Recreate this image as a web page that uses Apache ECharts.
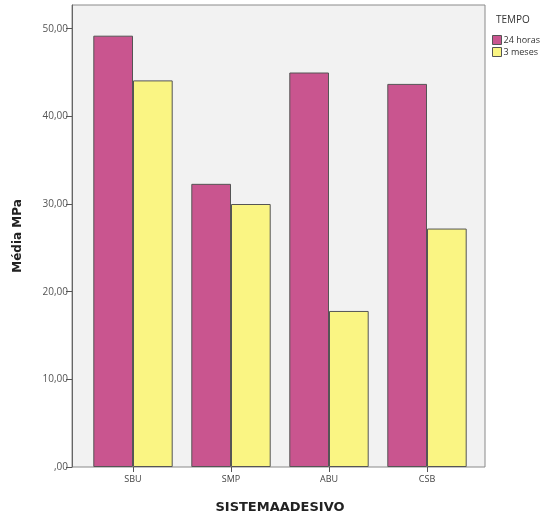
<!DOCTYPE html>
<html>
<head>
<meta charset="utf-8">
<script src="https://cdn.jsdelivr.net/npm/echarts@6/dist/echarts.min.js"></script>
<style>
  html, body { margin: 0; padding: 0; background: #fff; }
  #container { width: 552px; height: 514px; }
</style>
</head>
<body>
<div id="container"></div>
<script>
const categories = ['SBU', 'SMP', 'ABU', 'CSB'];
const horas24 = [49.2, 32.3, 45.0, 43.7];
const meses3 = [44.1, 30.0, 17.8, 27.2];
const yTicks = [0, 10, 20, 30, 40, 50];

const yMax = 52.7;
let chart = echarts.init(document.getElementById('container'));

function fmt(v) {
  // SPSS style: ",00" for zero, "10,00" etc
  if (v === 0) return ',00';
  return v.toFixed(2).replace('.', ',');
}

let option = {
  animation: false,
  textStyle: { fontFamily: 'DejaVu Sans' },
  title: {
    text: 'TEMPO',
    left: 491,
    top: 10,
    textStyle: { fontSize: 10, fontWeight: 'normal', color: '#333', fontFamily: 'Open Sans' },
  },
  legend: {
    orient: 'vertical',
    left: 487,
    top: 30,
    itemWidth: 9,
    itemHeight: 9,
    itemGap: 2,
    icon: 'rect',
    textStyle: { fontSize: 9, color: '#333', padding: [0, 0, 0, -3], fontFamily: 'Open Sans' },
    itemStyle: { borderColor: '#555', borderWidth: 1 },
    data: ['24 horas', '3 meses'],
  },
  grid: [
    // frame
    {
      left: 72,
      right: 67,
      top: 5,
      bottom: 47,
      outerBoundsMode: 'none',
      show: true,
      backgroundColor: '#f2f2f2',
      borderColor: '#8a8a8a',
      borderWidth: 1,
    },
    // bars
    {
      left: 84,
      right: 76,
      top: 5,
      bottom: 47,
      outerBoundsMode: 'none',
    },
  ],
  xAxis: [
    { gridIndex: 0, type: 'value', show: false, min: 0, max: 1 },
    {
      gridIndex: 1,
      type: 'category',
      data: categories,
      axisLine: { show: false },
      axisTick: { show: true, alignWithLabel: true, length: 5, lineStyle: { color: '#555' } },
      axisLabel: { fontSize: 9, color: '#444', margin: 8, fontFamily: 'Open Sans' },
      name: 'SISTEMAADESIVO',
      nameLocation: 'middle',
      nameGap: 34,
      nameTextStyle: { fontSize: 13, fontWeight: 'bold', color: '#222' },
    },
  ],
  yAxis: [
    {
      gridIndex: 0,
      type: 'value',
      min: 0,
      max: yMax,
      axisLine: { show: true, lineStyle: { color: '#666' } },
      axisTick: { show: true, length: 6, lineStyle: { color: '#555' }, customValues: yTicks },
      axisLabel: {
        fontSize: 10,
        color: '#555',
        margin: 4,
        customValues: yTicks,
        formatter: fmt,
        fontFamily: 'Open Sans',
      },
      splitLine: { show: false },
      name: 'Média MPa',
      nameLocation: 'middle',
      nameGap: 48,
      nameTextStyle: { fontSize: 12, fontWeight: 'bold', color: '#222' },
    },
    { gridIndex: 1, type: 'value', min: 0, max: yMax, show: false },
  ],
  series: [
    {
      name: '24 horas',
      type: 'bar',
      xAxisIndex: 1,
      yAxisIndex: 1,
      data: horas24,
      barGap: '0%',
      barCategoryGap: '19%',
      itemStyle: { color: '#c9558f', borderColor: '#555', borderWidth: 1 },
    },
    {
      name: '3 meses',
      type: 'bar',
      xAxisIndex: 1,
      yAxisIndex: 1,
      data: meses3,
      barGap: '0%',
      barCategoryGap: '19%',
      itemStyle: { color: '#faf583', borderColor: '#555', borderWidth: 1 },
    },
  ],
};

chart.setOption(option);
</script>
</body>
</html>
